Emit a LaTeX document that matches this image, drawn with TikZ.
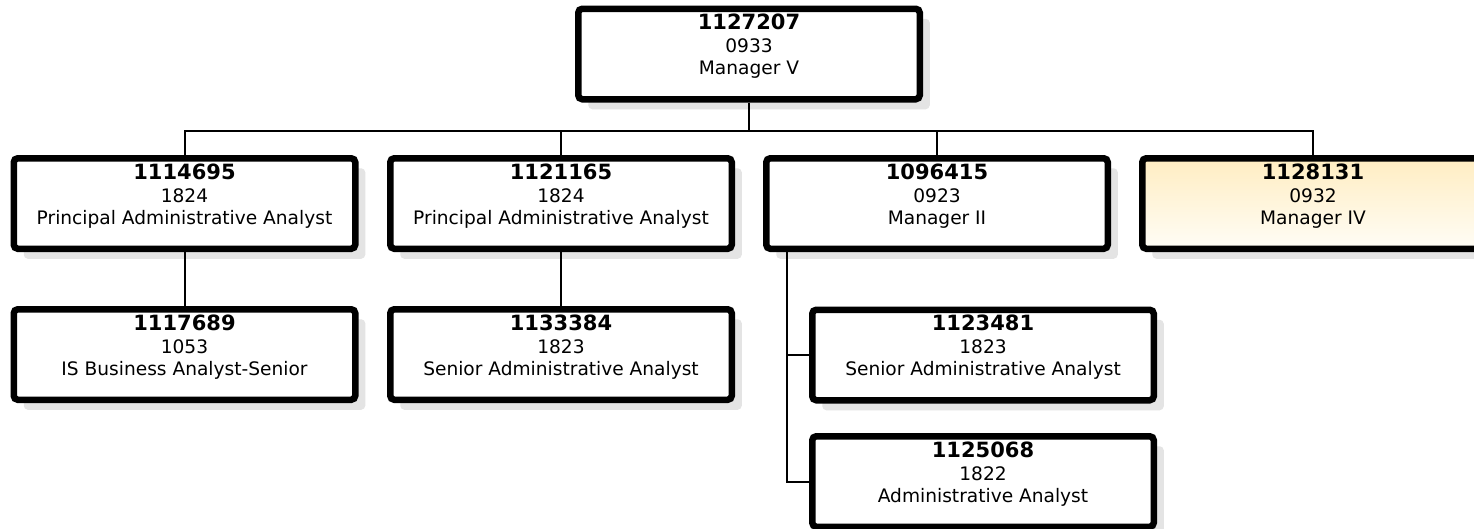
\documentclass[tikz,border=0pt]{standalone}
\usepackage{fontspec}
\setmainfont{DejaVu Sans}
\usetikzlibrary{shadows}
\definecolor{shadowgray}{RGB}{228,228,228}
\definecolor{mgrtop}{RGB}{255,237,194}
\definecolor{mgrbot}{RGB}{255,253,246}
\newcommand{\posbox}[3]{{\fontsize{21}{23}\selectfont\bfseries #1}\\#2\\[-1pt]#3\\[-4pt]}
\tikzset{
  posn/.style={draw=black, line width=6.5pt, rounded corners=4pt, fill=white,
    minimum width=341.5pt, minimum height=90.5pt, inner sep=0pt, align=center,
    font=\fontsize{18.6}{23}\selectfont,
    drop shadow={shadow xshift=10pt, shadow yshift=-10pt, fill=shadowgray, opacity=1}},
  hilite/.style={top color=mgrtop, bottom color=mgrbot},
  conn/.style={draw=black, line width=2pt}
}
\begin{document}
\begin{tikzpicture}[x=1pt,y=-1pt]
\useasboundingbox (0,0) rectangle (1474,528);
\node[posn] (top) at (749,54) {\posbox{1127207}{0933}{Manager V}};
\node[posn] (b1) at (184.5,203.5) {\posbox{1114695}{1824}{Principal Administrative Analyst}};
\node[posn] (b2) at (561,203.5) {\posbox{1121165}{1824}{Principal Administrative Analyst}};
\node[posn] (b3) at (937,203.5) {\posbox{1096415}{0923}{Manager II}};
\node[posn,hilite] (b4) at (1313,203.5) {\posbox{1128131}{0932}{Manager IV}};
\node[posn] (c1) at (184.5,354.5) {\posbox{1117689}{1053}{IS Business Analyst-Senior}};
\node[posn] (c2) at (561,354.5) {\posbox{1133384}{1823}{Senior Administrative Analyst}};
\node[posn] (c3a) at (983,355) {\posbox{1123481}{1823}{Senior Administrative Analyst}};
\node[posn] (c3b) at (983,481.5) {\posbox{1125068}{1822}{Administrative Analyst}};
\coordinate (hub) at (749,131);
\coordinate (m2) at (787,252);
\draw[conn] (top.south) -- (hub);
\draw[conn] (b1.north) |- (hub) -| (b4.north);
\draw[conn] (b2.north) -- (b2.north |- hub);
\draw[conn] (b3.north) -- (b3.north |- hub);
\draw[conn] (b1.south) -- (c1.north);
\draw[conn] (b2.south) -- (c2.north);
\draw[conn] (m2) |- (c3a.west);
\draw[conn] (m2) |- (c3b.west);
\end{tikzpicture}
\end{document}
